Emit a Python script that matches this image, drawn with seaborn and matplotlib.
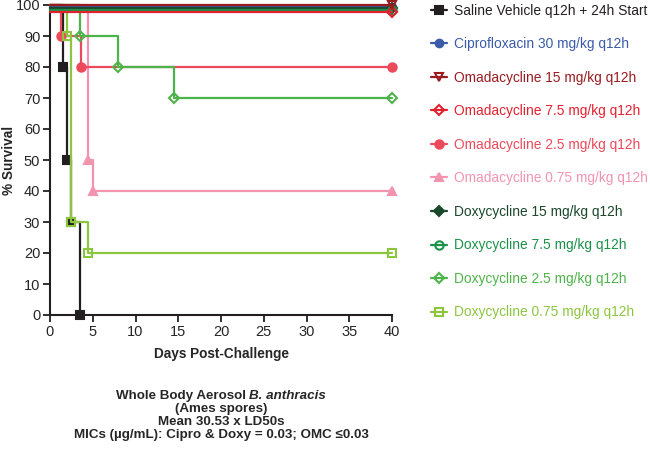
import matplotlib
matplotlib.use("Agg")
import matplotlib.pyplot as plt
import seaborn as sns
import pandas as pd
from matplotlib.lines import Line2D

sns.set_style("ticks")
plt.rcParams['font.family'] = ['Liberation Sans', 'DejaVu Sans']

# ---- data ----
labels = [
    "Saline Vehicle q12h + 24h Start",
    "Ciprofloxacin 30 mg/kg q12h",
    "Omadacycline 15 mg/kg q12h",
    "Omadacycline 7.5 mg/kg q12h",
    "Omadacycline 2.5 mg/kg q12h",
    "Omadacycline 0.75 mg/kg q12h",
    "Doxycycline 15 mg/kg q12h",
    "Doxycycline 7.5 mg/kg q12h",
    "Doxycycline 2.5 mg/kg q12h",
    "Doxycycline 0.75 mg/kg q12h",
]
saline_t = [0, 1.5, 2.0, 2.5, 3.5]
saline_s = [100, 80, 50, 30, 0]
cipro_t = [0, 40]
cipro_s = [99.4, 99.4]
omc15_t = [0, 40]
omc15_s = [100, 100]
omc75_t = [0, 40]
omc75_s = [97.9, 97.9]
omc25_t = [0, 1.25, 3.6, 40]
omc25_s = [100, 90, 80, 80]
omc075_t = [0, 4.4, 5.0, 40]
omc075_s = [100, 50, 40, 40]
doxy15_t = [0, 40]
doxy15_s = [98.9, 98.9]
doxy75_t = [0, 40]
doxy75_s = [98.4, 98.4]
doxy25_t = [0, 3.5, 8.0, 14.5, 40]
doxy25_s = [100, 90, 80, 70, 70]
doxy075_t = [0, 2.0, 2.5, 4.5, 40]
doxy075_s = [100, 90, 30, 20, 20]

times = [saline_t, cipro_t, omc15_t, omc75_t, omc25_t, omc075_t,
         doxy15_t, doxy75_t, doxy25_t, doxy075_t]
survs = [saline_s, cipro_s, omc15_s, omc75_s, omc25_s, omc075_s,
         doxy15_s, doxy75_s, doxy25_s, doxy075_s]

x_ticks = [0, 5, 10, 15, 20, 25, 30, 35, 40]
y_ticks = [0, 10, 20, 30, 40, 50, 60, 70, 80, 90, 100]

caption_lines = ["(Ames spores)", "Mean 30.53 x LD50s",
                 "MICs (µg/mL): Cipro & Doxy = 0.03; OMC ≤0.03"]

# ---- styles ----
colors = ["#231F20", "#3A5BA8", "#9A1B1F", "#E3202E", "#EC4A5A", "#F294B0",
          "#1B472A", "#1B9149", "#4DB449", "#8CC63F"]
markers = ["s", "o", "v", "D", "o", "^", "D", "o", "D", "s"]
filled = [True, True, False, False, True, True, True, False, False, False]
msizes = [5.5, 5.5, 6, 5.5, 6, 6, 5.5, 6, 5.5, 5.5]

fig = plt.figure(figsize=(6.5, 4.55), dpi=100)
ax = fig.add_axes([50/650, 1-315/455, (392-50)/650, (315-5)/455])

order = [0, 5, 4, 9, 8, 1, 6, 7, 3, 2]
for i in order:
    df = pd.DataFrame({"t": times[i], "s": survs[i]})
    sns.lineplot(data=df, x="t", y="s", ax=ax, estimator=None, sort=False,
                 drawstyle="steps-post", color=colors[i], lw=1.6,
                 marker=markers[i], markersize=msizes[i], markevery=slice(1, None),
                 markerfacecolor=colors[i] if filled[i] else "none",
                 markeredgecolor=colors[i], markeredgewidth=1.5,
                 clip_on=False, zorder=3)

ax.set_xlim(0, 40)
ax.set_ylim(0, 100)
ax.set_xticks(x_ticks)
ax.set_yticks(y_ticks)
ax.tick_params(labelsize=10.5, width=1.3, length=5, color="#231F20", pad=2)
for s in ["left", "bottom"]:
    ax.spines[s].set_linewidth(1.5)
    ax.spines[s].set_color("#231F20")
sns.despine(ax=ax)
ax.set_xlabel("Days Post-Challenge", fontsize=9.8, fontweight="bold", labelpad=6)
ax.set_ylabel("")
fig.text(9/650, 1-160/455, "% Survival", rotation=90, ha="center", va="center",
         fontsize=9.8, fontweight="bold")

handles = []
for i in range(len(labels)):
    handles.append(Line2D([0], [0], color=colors[i], lw=1.6, marker=markers[i],
                          markersize=msizes[i],
                          markerfacecolor=colors[i] if filled[i] else "none",
                          markeredgecolor=colors[i], markeredgewidth=1.5))
leg = fig.legend(handles, labels, loc="upper left", bbox_to_anchor=(425/650, 1.004),
                 frameon=False, fontsize=9.9, handlelength=1.2, handletextpad=0.5,
                 labelspacing=1.42, borderaxespad=0.0)
for txt, c in zip(leg.get_texts(), colors):
    txt.set_color(c)

# ---- caption ----
cx = 221/650
fs = 9.6
renderer = fig.canvas.get_renderer()
ta = fig.text(0, 1-396/455, "Whole Body Aerosol ", ha="left", va="center",
              fontsize=fs, fontweight="bold")
tb = fig.text(0, 1-396/455, "B. anthracis", ha="left", va="center",
              fontsize=fs, fontweight="bold", fontstyle="italic")
wa = ta.get_window_extent(renderer).width / 650
wb = tb.get_window_extent(renderer).width / 650
x0 = cx - (wa + wb) / 2
ta.set_x(x0)
tb.set_x(x0 + wa)
for k, line in enumerate(caption_lines):
    fig.text(cx, 1-(409 + 13*k)/455, line, ha="center", va="center",
             fontsize=fs, fontweight="bold")

fig.savefig("out.png", dpi=100)
